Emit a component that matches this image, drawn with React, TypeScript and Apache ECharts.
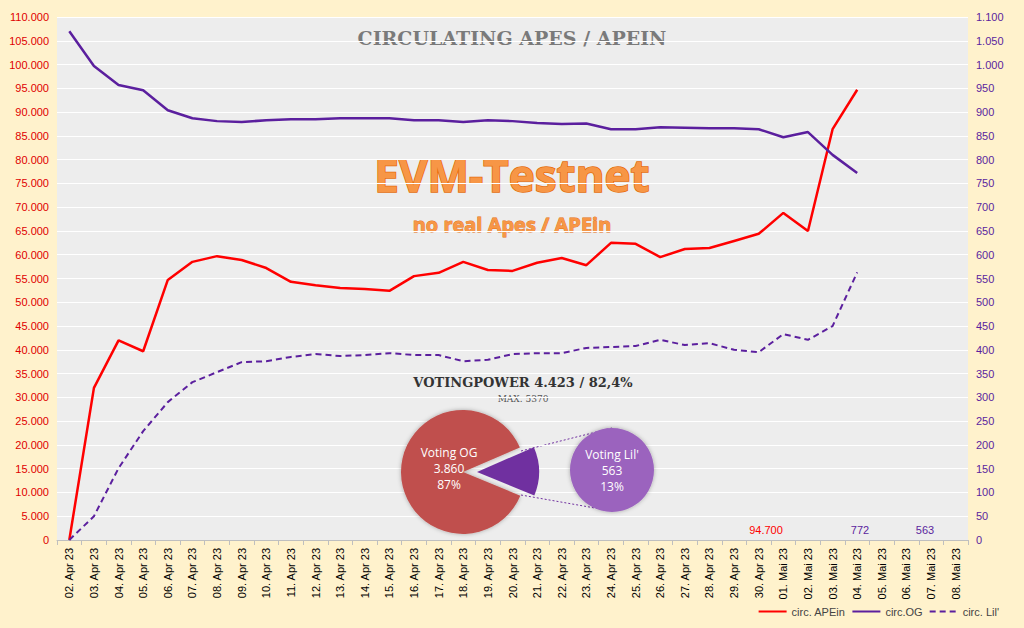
import React, { useEffect, useRef } from "react";
import * as echarts from "echarts";

const categories = [
  "02. Apr 23","03. Apr 23","04. Apr 23","05. Apr 23","06. Apr 23","07. Apr 23","08. Apr 23","09. Apr 23","10. Apr 23",
  "11. Apr 23","12. Apr 23","13. Apr 23","14. Apr 23","15. Apr 23","16. Apr 23","17. Apr 23","18. Apr 23","19. Apr 23",
  "20. Apr 23","21. Apr 23","22. Apr 23","23. Apr 23","24. Apr 23","25. Apr 23","26. Apr 23","27. Apr 23","28. Apr 23",
  "29. Apr 23","30. Apr 23","01. Mai 23","02. Mai 23","03. Mai 23","04. Mai 23","05. Mai 23","06. Mai 23","07. Mai 23","08. Mai 23",
];
const apein = [0,32000,42000,39700,54700,58500,59700,58900,57200,54300,53600,53000,52800,52400,55500,56200,58500,56800,56600,58300,59300,57800,62500,62300,59500,61200,61400,62900,64400,68800,65000,86400,94700];
const og = [1070,997,957,946,904,887,881,879,883,885,885,887,887,887,883,883,879,883,881,877,875,876,864,864,868,867,866,866,864,847,858,810,772];
const lil = [0,50,151,229,290,332,353,374,376,385,391,387,389,393,389,389,376,379,391,393,393,404,406,408,421,410,414,400,395,433,421,450,563];
const votingSlices = [
  { name: "Voting Lil'", value: 563 },
  { name: "Voting OG", value: 3860 },
];
const fmt = (v: number) => v.toLocaleString("de-DE");

export default function App() {
  const ref = useRef<HTMLDivElement>(null);
  useEffect(() => {
    const chart = echarts.init(ref.current!, undefined, { renderer: "svg" });
    const total = votingSlices[0].value + votingSlices[1].value;
    chart.setOption({
      animation: false,
      backgroundColor: "#FFF2CC",
      textStyle: { fontFamily: "Liberation Sans" },
      grid: { left: 57, right: 56, top: 17, bottom: 88, show: true, backgroundColor: "#EDEDED", borderWidth: 0 },
      legend: {
        right: 20, bottom: 6, itemWidth: 28, itemHeight: 8, itemGap: 6,
        itemStyle: { opacity: 0 },
        textStyle: { fontSize: 11, color: "#444" },
        data: ["circ. APEin", "circ.OG", "circ. Lil'"],
      },
      xAxis: {
        type: "category", data: categories,
        axisLine: { lineStyle: { color: "#BFBFBF" } },
        axisTick: { show: true, lineStyle: { color: "#BFBFBF" } },
        axisLabel: { rotate: 90, fontSize: 11, color: "#000", interval: 0 },
      },
      yAxis: [
        { type: "value", min: 0, max: 110000, interval: 5000,
          axisLabel: { color: "#E00000", fontSize: 11, formatter: fmt },
          splitLine: { lineStyle: { color: "#FFFFFF", width: 1 } } },
        { type: "value", min: 0, max: 1100, interval: 50,
          axisLabel: { color: "#5B1F9E", fontSize: 11, formatter: fmt },
          splitLine: { show: false } },
      ],
      series: [
        { name: "circ. APEin", type: "line", data: apein, yAxisIndex: 0, symbol: "none", lineStyle: { color: "#FF0000", width: 2.5 }, itemStyle: { color: "#FF0000" } },
        { name: "circ.OG", type: "line", data: og, yAxisIndex: 1, symbol: "none", lineStyle: { color: "#5B1F9E", width: 2.5 }, itemStyle: { color: "#5B1F9E" } },
        { name: "circ. Lil'", type: "line", data: lil, yAxisIndex: 1, symbol: "none", lineStyle: { color: "#5B1F9E", width: 2, type: [6, 4] }, itemStyle: { color: "#5B1F9E" } },
        {
          type: "pie", center: [463, 472], radius: 62, startAngle: 23.4, clockwise: true,
          selectedMode: "single", selectedOffset: 14, silent: true,
          label: { show: false }, labelLine: { show: false },
          data: [
            { ...votingSlices[0], selected: true, itemStyle: { color: "#7030A0" } },
            { ...votingSlices[1], itemStyle: { color: "#C0504D", shadowBlur: 4, shadowColor: "rgba(0,0,0,0.3)" },
              label: { show: true, position: "inside", color: "#fff", fontSize: 12, lineHeight: 16, offset: [20, -4], fontFamily: "Open Sans",
                formatter: `Voting OG\n${fmt(votingSlices[1].value)}\n${Math.round(votingSlices[1].value / total * 100)}%` } },
          ],
        },
        {
          type: "pie", center: [612, 470], radius: 42, silent: true,
          labelLine: { show: false },
          label: { show: true, position: "center", color: "#fff", fontSize: 12, lineHeight: 16, fontFamily: "Open Sans",
            formatter: `Voting Lil'\n${votingSlices[0].value}\n${Math.round(votingSlices[0].value / total * 100)}%` },
          data: [{ ...votingSlices[0], itemStyle: { color: "#9B64BE", shadowBlur: 4, shadowColor: "rgba(0,0,0,0.3)" } }],
        },
      ],
      graphic: [
        { type: "text", left: "center", top: 28, style: { text: "CIRCULATING APES / APEIN", fill: "#7a7a7a", font: "bold 19px 'DejaVu Serif'" } },
        { type: "text", left: "center", top: 152, style: { text: "EVM-Testnet", fill: "#F79646", stroke: "#E46C0A", lineWidth: 1.5, font: "bold 44px 'Open Sans'" } },
        { type: "text", left: "center", top: 214, style: { text: "no real Apes / APEin", fill: "#F79646", stroke: "#E46C0A", lineWidth: 0.8, font: "bold 20px 'Open Sans'" } },
        { type: "text", x: 523, y: 376, style: { text: "VOTINGPOWER 4.423 / 82,4%", fill: "#333", font: "bold 13px 'DejaVu Serif'", align: "center" } },
        { type: "text", x: 523, y: 394, style: { text: "MAX. 5370", fill: "#555", font: "9px 'DejaVu Serif'", align: "center" } },
        { type: "line", shape: { x1: 521, y1: 451, x2: 612, y2: 428 }, style: { stroke: "#7030A0", lineWidth: 1, lineDash: [2, 2] } },
        { type: "line", shape: { x1: 521, y1: 495, x2: 612, y2: 511 }, style: { stroke: "#7030A0", lineWidth: 1, lineDash: [2, 2] } },
        { type: "text", x: 766, y: 524, style: { text: fmt(apein[apein.length - 1]), fill: "#FF0000", font: "11px 'Liberation Sans'", align: "center" } },
        { type: "text", x: 860, y: 524, style: { text: String(og[og.length - 1]), fill: "#5B1F9E", font: "11px 'Liberation Sans'", align: "center" } },
        { type: "text", x: 925, y: 524, style: { text: String(lil[lil.length - 1]), fill: "#5B1F9E", font: "11px 'Liberation Sans'", align: "center" } },
      ],
    });
    return () => chart.dispose();
  }, []);
  return <div ref={ref} style={{ position: "absolute", left: 0, top: 0, width: 1024, height: 628 }} />;
}
